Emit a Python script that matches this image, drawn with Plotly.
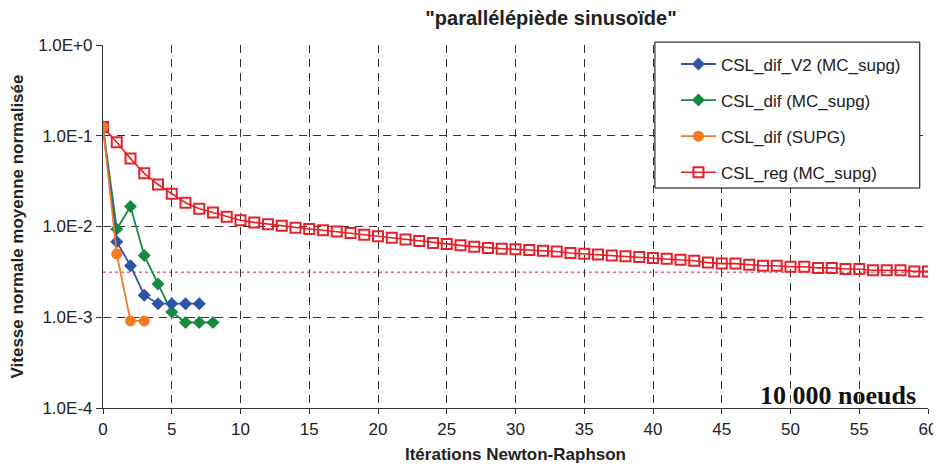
import plotly.graph_objects as go

# ---- data ----
x_blue = [0, 1, 2, 3, 4, 5, 6, 7]
y_blue = [0.125, 0.0068, 0.0037, 0.00175, 0.00141, 0.00141, 0.00141, 0.00141]

x_green = [0, 1, 2, 3, 4, 5, 6, 7, 8]
y_green = [0.125, 0.0094, 0.0166, 0.0048, 0.00233, 0.00114, 0.000875, 0.000875, 0.000875]

x_orange = [0, 1, 2, 3]
y_orange = [0.125, 0.0050, 0.00091, 0.00091]

x_red = list(range(0, 61))
y_red = [0.125, 0.085, 0.056, 0.0385, 0.029, 0.023, 0.0183, 0.0157, 0.0143, 0.0128,
         0.0117, 0.0111, 0.0106, 0.0102, 0.0097, 0.0094, 0.0091, 0.0088, 0.0085, 0.0081,
         0.0078, 0.0075, 0.0072, 0.0069, 0.0066, 0.0064, 0.0062, 0.0060, 0.0058, 0.0057,
         0.0056, 0.0055, 0.0054, 0.0053, 0.0051, 0.0050, 0.0049, 0.0048, 0.0047, 0.0046,
         0.0045, 0.0044, 0.0043, 0.0042, 0.0040, 0.0039, 0.0039, 0.0038, 0.0037, 0.0037,
         0.0036, 0.0036, 0.0035, 0.0035, 0.0034, 0.0034, 0.0033, 0.0033, 0.0033, 0.0032,
         0.0032]

ref_level = 0.00314

names = ["CSL_dif_V2 (MC_supg)", "CSL_dif (MC_supg)", "CSL_dif (SUPG)", "CSL_reg (MC_supg)"]
y_tickvals = [1e-4, 1e-3, 1e-2, 1e-1, 1e0]
y_ticktext = ["1.0E-4", "1.0E-3", "1.0E-2", "1.0E-1", "1.0E+0"]
x_tickvals = list(range(0, 61, 5))

BLUE = "#2E55A5"
GREEN = "#168A41"
ORANGE = "#F37A24"
RED = "#E8202A"

fig = go.Figure()

fig.add_trace(go.Scatter(x=x_red, y=y_red, name=names[3], mode="lines+markers",
                         line=dict(color=RED, width=1.6),
                         marker=dict(symbol="square-open", size=10, color=RED,
                                     line=dict(width=2, color=RED)),
                         legendgroup="d", legendrank=4))
fig.add_trace(go.Scatter(x=x_green, y=y_green, name=names[1], mode="lines+markers",
                         line=dict(color=GREEN, width=1.8),
                         marker=dict(symbol="diamond", size=10, color=GREEN),
                         legendgroup="b", legendrank=2))
fig.add_trace(go.Scatter(x=x_blue, y=y_blue, name=names[0], mode="lines+markers",
                         line=dict(color=BLUE, width=1.8),
                         marker=dict(symbol="diamond", size=10, color=BLUE),
                         legendgroup="a", legendrank=1))
fig.add_trace(go.Scatter(x=x_orange, y=y_orange, name=names[2], mode="lines+markers",
                         line=dict(color=ORANGE, width=1.8),
                         marker=dict(symbol="circle", size=11, color=ORANGE),
                         legendgroup="c", legendrank=3))

# reference dashed line
fig.add_shape(type="line", xref="paper", yref="y", x0=0, x1=1,
              y0=ref_level, y1=ref_level,
              line=dict(color="#D42030", width=1, dash="3px,3px"), layer="below")

# legend box
fig.add_shape(type="rect", xref="paper", yref="paper",
              x0=0.669, x1=0.990, y0=0.606, y1=1.008,
              line=dict(color="black", width=1), fillcolor="white", layer="above")

fig.add_annotation(text="<b>10 000 noeuds</b>", xref="paper", yref="paper",
                   x=0.988, y=-0.012, xanchor="right", yanchor="bottom",
                   showarrow=False,
                   font=dict(family="Liberation Serif", size=26, color="#111"))

# the page body adds an 8px offset; figure size and margins compensate for it
fig.update_layout(
    width=933, height=466,
    margin=dict(l=95, r=13, t=37, b=66, autoexpand=False),
    paper_bgcolor="white", plot_bgcolor="white",
    font=dict(family="Liberation Sans, Arial", size=17, color="#222"),
    title=dict(text='<b>"parallélépiède sinusoïde"</b>', x=0.582, xanchor="center",
               y=0.979, yanchor="middle", font=dict(size=20, color="#222")),
    showlegend=True,
    legend=dict(x=0.6945, y=0.996, xanchor="left", yanchor="top",
                bgcolor="rgba(0,0,0,0)", borderwidth=0,
                font=dict(size=17, color="#222"),
                tracegroupgap=11, itemwidth=35, traceorder="grouped"),
)

fig.update_xaxes(range=[0, 60], tickvals=x_tickvals, showgrid=True,
                 gridcolor="#333", griddash="8px,6px", gridwidth=1,
                 showline=True, linecolor="#333", linewidth=1.2,
                 ticks="outside", ticklen=5, tickcolor="#333",
                 zeroline=False, automargin=False,
                 tickfont=dict(size=17),
                 title=dict(text="<b>Itérations Newton-Raphson</b>", standoff=10,
                            font=dict(size=17)))
fig.update_yaxes(type="log", range=[-4, 0], tickvals=y_tickvals, ticktext=y_ticktext,
                 showgrid=True, gridcolor="#333", griddash="8px,6px", gridwidth=1,
                 showline=True, linecolor="#333", linewidth=1.2,
                 ticks="outside", ticklen=6, tickcolor="#333",
                 zeroline=False, automargin=False,
                 tickfont=dict(size=17),
                 title=dict(text="<b>Vitesse normale moyenne normalisée</b>", standoff=14,
                            font=dict(size=17)))

fig.write_html("out.html")
